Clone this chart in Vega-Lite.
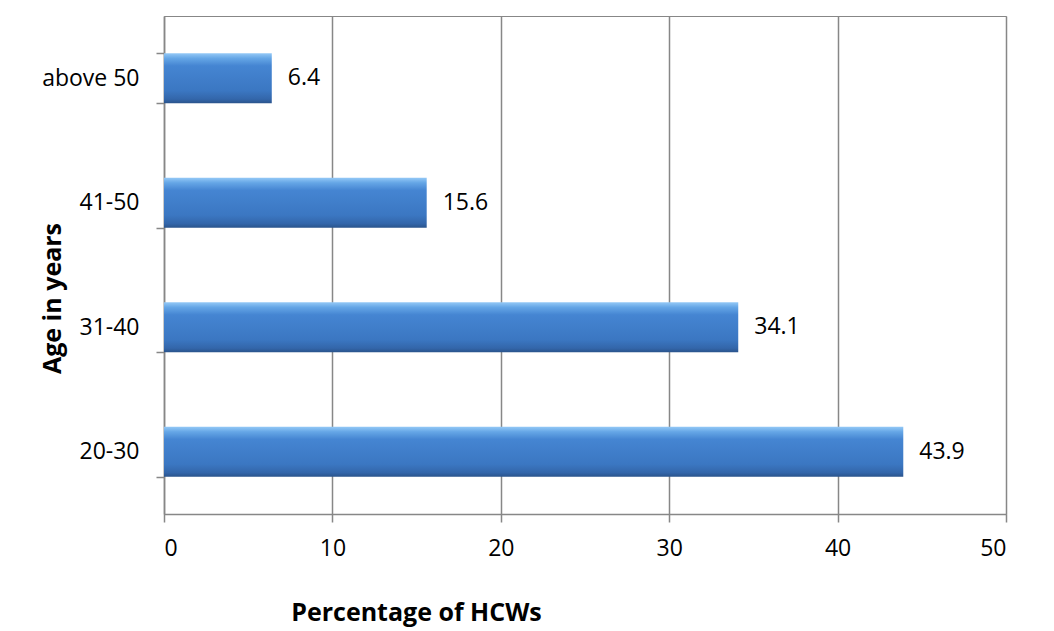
{
  "$schema": "https://vega.github.io/schema/vega-lite/v6.json",
  "autosize": "none",
  "width": 842,
  "height": 498,
  "padding": {"left": 164, "top": 16, "right": 48, "bottom": 117},
  "background": "white",
  "config": {
    "view": {"stroke": "#878787", "strokeWidth": 1},
    "font": "Open Sans",
    "axis": {"labelFont": "Open Sans", "titleFont": "Open Sans", "labelColor": "#000", "titleColor": "#000"}
  },
  "data": {
    "values": [
      {"age": "above 50", "pct": 6.4},
      {"age": "41-50", "pct": 15.6},
      {"age": "31-40", "pct": 34.1},
      {"age": "20-30", "pct": 43.9}
    ]
  },
  "encoding": {
    "y": {
      "field": "age",
      "type": "nominal",
      "sort": ["above 50", "41-50", "31-40", "20-30"],
      "scale": {"paddingInner": 0.6, "paddingOuter": 0.3},
      "axis": {
        "title": "Age in years",
        "titleFontSize": 25,
        "titleFontWeight": "bold",
        "titleAngle": -90,
        "titleAlign": "center",
        "titleBaseline": "alphabetic",
        "titleX": -104,
        "titleY": 282,
        "labelFontSize": 23,
        "labelPadding": 17,
        "tickBand": "extent",
        "tickSize": 8,
        "tickColor": "#878787",
        "tickWidth": 1.5,
        "domainColor": "#878787",
        "domainWidth": 1.5,
        "grid": false
      }
    },
    "x": {
      "field": "pct",
      "type": "quantitative",
      "scale": {"domain": [0, 50], "nice": false},
      "axis": {
        "title": "Percentage of HCWs",
        "titleFontSize": 25,
        "titleFontWeight": "bold",
        "titleAlign": "center",
        "titleBaseline": "alphabetic",
        "titleX": 252,
        "titleY": 106,
        "values": [0, 10, 20, 30, 40, 50],
        "labelFontSize": 23,
        "labelPadding": 15,
        "tickSize": 8,
        "tickColor": "#878787",
        "tickWidth": 1.5,
        "domainColor": "#878787",
        "domainWidth": 1.5,
        "grid": true,
        "gridColor": "#878787",
        "gridWidth": 1.5,
        "gridOpacity": 1
      }
    }
  },
  "layer": [
    {
      "mark": {
        "type": "bar",
        "color": {
          "gradient": "linear",
          "x1": 0, "y1": 0, "x2": 0, "y2": 1,
          "stops": [
            {"offset": 0, "color": "#93c8f6"},
            {"offset": 0.1, "color": "#65a6e6"},
            {"offset": 0.25, "color": "#4585d2"},
            {"offset": 0.75, "color": "#3b77c2"},
            {"offset": 0.92, "color": "#3366aa"},
            {"offset": 1, "color": "#2a548c"}
          ]
        }
      }
    },
    {
      "mark": {"type": "text", "align": "left", "baseline": "middle", "dx": 16, "fontSize": 23, "font": "Open Sans", "color": "#000"},
      "encoding": {"text": {"field": "pct", "type": "quantitative", "format": ".1f"}}
    }
  ]
}
